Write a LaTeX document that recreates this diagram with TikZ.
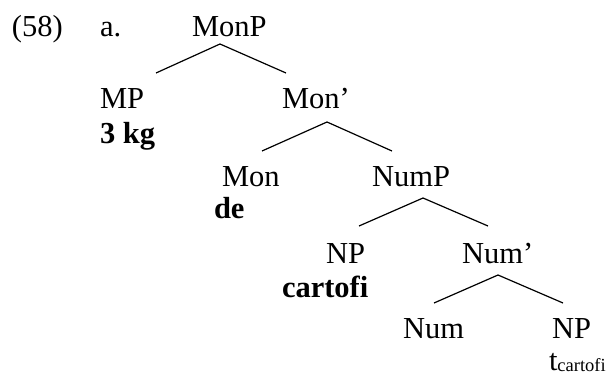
\documentclass[tikz,border=0pt]{standalone}
\usepackage{fontspec}
\setmainfont{Liberation Serif}
\begin{document}
\begin{tikzpicture}[x=1pt,y=-1pt,
  lab/.style={anchor=base west,inner sep=0pt,outer sep=0pt,font=\fontsize{30.5}{30.5}\selectfont},
  boldlab/.style={lab,font=\fontsize{30.5}{30.5}\selectfont\bfseries},
  edge/.style={line width=1.2pt}]
\useasboundingbox (0,0) rectangle (613,377);
\node[lab] (ex) at (12,37) {(58)};
\node[lab] (a) at (100,37) {a.};
\node[lab] (monp) at (192,37) {MonP};
\node[lab] (mp) at (100,109) {MP};
\node[boldlab] (kg) at (100,143) {3 kg};
\node[lab] (monbar) at (282,109) {Mon’};
\node[lab] (mon) at (222,186) {Mon};
\node[boldlab] (de) at (214,218) {de};
\node[lab] (nump) at (372,186) {NumP};
\node[lab] (np1) at (326,263) {NP};
\node[boldlab] (cart) at (282,297) {cartofi};
\node[lab] (numbar) at (462,263) {Num’};
\node[lab] (num) at (403,338) {Num};
\node[lab] (np2) at (552,338) {NP};
\node[lab] (trace) at (549,370) {t\raisebox{-1.5pt}{\fontsize{18.5}{18.5}\selectfont cartofi}};
% connector points
\coordinate (A1) at (220,44);  \coordinate (L1) at (156,73);  \coordinate (R1) at (286,73);
\coordinate (A2) at (327,122); \coordinate (L2) at (262,151); \coordinate (R2) at (392,151);
\coordinate (A3) at (423,198); \coordinate (L3) at (359,226); \coordinate (R3) at (488,226);
\coordinate (A4) at (498,275); \coordinate (L4) at (434,303); \coordinate (R4) at (563,303);
\draw[edge] (L1) -- (A1) -- (R1);
\draw[edge] (L2) -- (A2) -- (R2);
\draw[edge] (L3) -- (A3) -- (R3);
\draw[edge] (L4) -- (A4) -- (R4);
\end{tikzpicture}
\end{document}
